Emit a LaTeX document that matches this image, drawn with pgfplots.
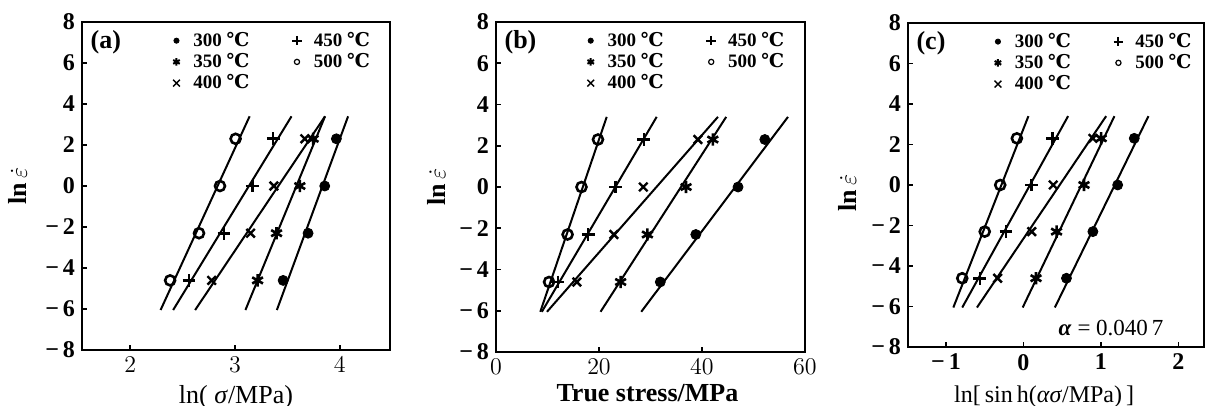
\documentclass[border=0pt]{standalone}
\usepackage{fontspec}
\setmainfont{Liberation Serif}
\newfontfamily\dvs{DejaVu Serif}
\newcommand\degC{{\dvs ℃}}
\usepackage{pgfplots}
\pgfplotsset{compat=1.18}

\pgfplotsset{
  panel/.style={
    scale only axis, anchor=south west,
    ymin=-8, ymax=8, ytick={-8,-6,...,8},
    yticklabels={−\,8,−\,6,−\,4,−\,2,0,2,4,6,8},
    axis line style={line width=1.4pt},
    tick pos=left, tick align=inside, major tick length=2.5pt,
    tick style={black, line width=0.8pt},
    tick label style={font=\fontsize{12}{14}\selectfont\bfseries},
    ylabel={\bfseries ln\,$\dot{\varepsilon}$},
    ylabel style={font=\fontsize{13}{15}\selectfont, anchor=center},
    xlabel style={anchor=center},
    legend style={draw=none, fill=none, anchor=north west,
      font=\fontsize{9.5}{10}\selectfont\bfseries, row sep=-2pt,
      /tikz/column 2/.style={column sep=17pt}},
    legend columns=3, transpose legend,
    legend image code/.code={\path (0,0) (0.36cm,0);
      \draw[##1] plot coordinates {(0.15cm,0cm)};},
  },
  fit/.style={black, line width=1pt, forget plot},
  m300/.style={only marks, black, mark=*, mark size=2.5pt,
    legend image post style={mark size=1.3pt}},
  m350/.style={only marks, black, mark=asterisk, mark size=3.1pt, line width=1.3pt,
    legend image post style={mark size=1.9pt, line width=1pt}},
  m400/.style={only marks, black, mark=x, mark size=3pt, line width=1.2pt,
    legend image post style={mark size=2.4pt, line width=0.7pt}},
  m450/.style={only marks, black, mark=+, mark size=3.2pt, line width=1.3pt,
    legend image post style={mark size=2.4pt, line width=1pt}},
  m500/.style={only marks, black, mark=o, mark size=2.5pt, line width=1.3pt,
    legend image post style={mark size=1.3pt, line width=0.6pt}},
}

\begin{document}
\begin{tikzpicture}
% (a)
\begin{axis}[panel, at={(41pt,28pt)}, width=154pt, height=164pt,
  xmin=1.54, xmax=4.48, xtick={2,3,4},
  xlabel={ln( \textit{σ}/MPa)},
  xlabel style={font=\fontsize{13}{15}\selectfont, at={(axis description cs:0.5,-0.143)}},
  ylabel style={at={(axis description cs:-0.208,0.5)}},
  legend style={at={(axis description cs:0.255,0.995)}}]
\addplot[fit] coordinates {(3.40,-6.05) (4.08,3.4)};
\addplot[fit] coordinates {(3.10,-6.05) (3.86,3.4)};
\addplot[fit] coordinates {(2.62,-6.05) (3.86,3.4)};
\addplot[fit] coordinates {(2.41,-6.05) (3.54,3.4)};
\addplot[fit] coordinates {(2.29,-6.05) (3.14,3.4)};
\addplot[m300] coordinates {(3.968,2.303) (3.857,0) (3.698,-2.303) (3.460,-4.605)};
\addplot[m350] coordinates {(3.746,2.303) (3.619,0) (3.397,-2.303) (3.216,-4.605)};
\addplot[m400] coordinates {(3.667,2.303) (3.371,0) (3.149,-2.303) (2.778,-4.605)};
\addplot[m450] coordinates {(3.365,2.303) (3.165,0) (2.895,-2.303) (2.562,-4.605)};
\addplot[m500] coordinates {(3.006,2.303) (2.857,0) (2.657,-2.303) (2.381,-4.605)};
\legend{300 \degC,350 \degC,400 \degC,450 \degC,500 \degC}
\node[anchor=north west, font=\fontsize{13}{15}\selectfont\bfseries]
  at (axis description cs:0.005,0.995) {(a)};
\end{axis}
% (b)
\begin{axis}[panel, at={(248pt,27pt)}, width=154.5pt, height=165pt,
  xmin=0, xmax=60, xtick={0,20,40,60},
  xlabel={\bfseries True stress/MPa},
  xlabel style={font=\fontsize{13}{15}\selectfont, at={(axis description cs:0.49,-0.125)}},
  ylabel style={at={(axis description cs:-0.193,0.5)}},
  legend style={at={(axis description cs:0.255,0.995)}}]
\addplot[fit] coordinates {(28.2,-6.05) (56.7,3.4)};
\addplot[fit] coordinates {(20.3,-6.05) (44.7,3.4)};
\addplot[fit] coordinates {(9.9,-6.05) (43.1,3.4)};
\addplot[fit] coordinates {(8.9,-6.05) (31.2,3.4)};
\addplot[fit] coordinates {(8.6,-6.05) (21.5,3.4)};
\addplot[m300] coordinates {(52.2,2.303) (47.0,0) (38.8,-2.303) (31.9,-4.605)};
\addplot[m350] coordinates {(42.1,2.303) (36.9,0) (29.4,-2.303) (24.2,-4.605)};
\addplot[m400] coordinates {(39.2,2.303) (28.6,0) (22.9,-2.303) (15.7,-4.605)};
\addplot[m450] coordinates {(28.7,2.303) (23.2,0) (17.9,-2.303) (12.0,-4.605)};
\addplot[m500] coordinates {(19.8,2.303) (16.6,0) (13.9,-2.303) (10.3,-4.605)};
\legend{300 \degC,350 \degC,400 \degC,450 \degC,500 \degC}
\node[anchor=north west, font=\fontsize{13}{15}\selectfont\bfseries]
  at (axis description cs:0.005,0.995) {(b)};
\end{axis}
% (c)
\begin{axis}[panel, at={(454pt,29.5pt)}, width=148pt, height=162pt,
  xmin=-1.49, xmax=2.33, xtick={-1,0,1,2}, xticklabels={−\,1,0,1,2},
  xlabel={ln[\,sin\,h(\textit{ασ}/MPa)\,]},
  xlabel style={font=\fontsize{12}{14}\selectfont, at={(axis description cs:0.46,-0.154)}},
  ylabel style={at={(axis description cs:-0.206,0.475)}},
  legend style={at={(axis description cs:0.25,0.995)}}]
\addplot[fit] coordinates {(0.405,-6.05) (1.613,3.4)};
\addplot[fit] coordinates {(-0.01,-6.05) (1.174,3.4)};
\addplot[fit] coordinates {(-0.60,-6.05) (1.067,3.4)};
\addplot[fit] coordinates {(-0.79,-6.05) (0.576,3.4)};
\addplot[fit] coordinates {(-0.905,-6.05) (0.064,3.4)};
\addplot[m300] coordinates {(1.43,2.303) (1.216,0) (0.896,-2.303) (0.555,-4.605)};
\addplot[m350] coordinates {(1.003,2.303) (0.781,0) (0.427,-2.303) (0.162,-4.605)};
\addplot[m400] coordinates {(0.896,2.303) (0.384,0) (0.107,-2.303) (-0.333,-4.605)};
\addplot[m450] coordinates {(0.376,2.303) (0.107,0) (-0.226,-2.303) (-0.563,-4.605)};
\addplot[m500] coordinates {(-0.085,2.303) (-0.30,0) (-0.50,-2.303) (-0.79,-4.605)};
\legend{300 \degC,350 \degC,400 \degC,450 \degC,500 \degC}
\node[anchor=north west, font=\fontsize{13}{15}\selectfont\bfseries]
  at (axis description cs:0.005,0.995) {(c)};
\node[font=\fontsize{11.5}{13}\selectfont] at (axis cs:1.13,-7.05)
  {\textit{\bfseries α} = 0.040\,7};
\end{axis}
\pgfresetboundingbox
\path[use as bounding box] (0,0) rectangle (602.5pt,203pt);
\end{tikzpicture}
\end{document}
